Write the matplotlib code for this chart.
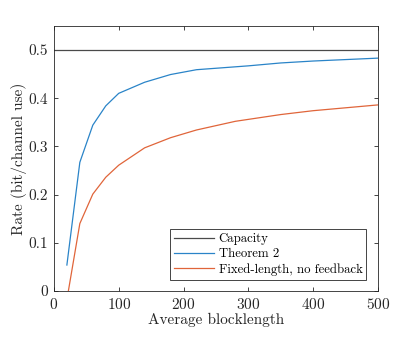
import matplotlib
matplotlib.use("Agg")
import matplotlib.pyplot as plt

plt.rcParams['font.family'] = ['cmr10', 'DejaVu Serif']
plt.rcParams['mathtext.fontset'] = 'cm'
plt.rcParams['axes.formatter.use_mathtext'] = True

# 数据
cap_x = [0, 500]
cap_y = [0.5, 0.5]

thm2_x = [20, 40, 60, 80, 100, 140, 180, 220, 260, 300, 350, 400, 450, 500]
thm2_y = [0.054, 0.267, 0.344, 0.384, 0.410, 0.433, 0.449, 0.459, 0.463, 0.467, 0.473, 0.477, 0.480, 0.483]

fixed_x = [20, 40, 60, 80, 100, 140, 180, 220, 280, 350, 400, 450, 500]
fixed_y = [-0.018, 0.140, 0.201, 0.236, 0.261, 0.297, 0.318, 0.334, 0.352, 0.366, 0.374, 0.380, 0.386]

fig = plt.figure(figsize=(4.18, 3.49), dpi=100)
ax = fig.add_axes([0.129, 0.166, 0.775, 0.76])

ax.plot(cap_x, cap_y, color='#4a4a4a', lw=0.9, label='Capacity')
ax.plot(thm2_x, thm2_y, color='#2a84c8', lw=0.9, label='Theorem 2')
ax.plot(fixed_x, fixed_y, color='#e0653a', lw=0.9, label='Fixed-length, no feedback')

ax.set_xlim(0, 500)
ax.set_ylim(0, 0.55)
ax.set_xticks([0, 100, 200, 300, 400, 500])
ax.set_yticks([0, 0.1, 0.2, 0.3, 0.4, 0.5])
ax.set_yticklabels(['0', '0.1', '0.2', '0.3', '0.4', '0.5'])
ax.tick_params(direction='in', top=True, right=True, labelsize=11, length=3,
               width=0.6, color='#262626', labelcolor='#262626', pad=4)
for s in ax.spines.values():
    s.set_linewidth(0.6)
    s.set_color('#262626')

ax.set_xlabel('Average blocklength', fontsize=11, color='#262626', labelpad=1)
ax.set_ylabel('Rate (bit/channel use)', fontsize=11, color='#262626', labelpad=1)

leg = ax.legend(loc='lower right', fontsize=9.2, fancybox=False, framealpha=1,
                edgecolor='#262626', handlelength=3.1, borderaxespad=0.9,
                labelspacing=0.22, borderpad=0.3, handletextpad=0.4)
leg.get_frame().set_linewidth(0.6)

fig.savefig('out.png', dpi=100)
